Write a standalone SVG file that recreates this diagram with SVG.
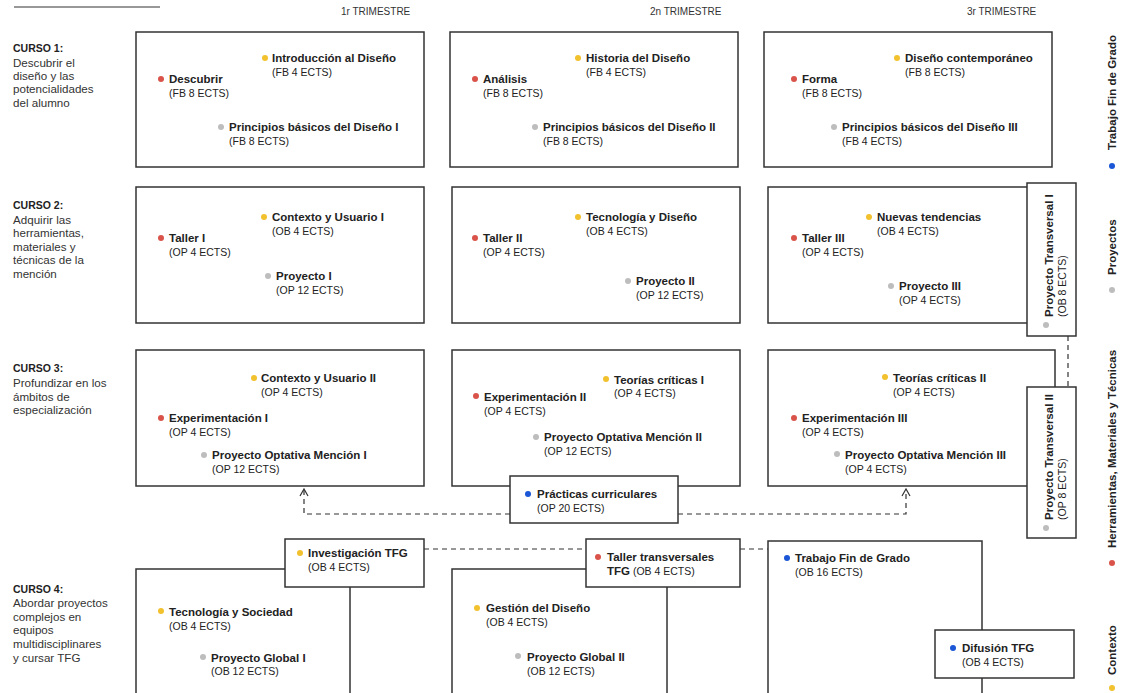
<svg xmlns="http://www.w3.org/2000/svg" width="1126" height="693" viewBox="0 0 1126 693">
<style>
text{font-family:"Liberation Sans","DejaVu Sans",sans-serif;fill:#222}
.t{font-size:11.5px;font-weight:bold}
.s{font-size:10.5px}
.h{font-size:10px;fill:#333}
.c{font-size:10.5px;font-weight:bold}
.d{font-size:11.6px;fill:#333}
.lg{font-size:11.5px;font-weight:bold}
.box{fill:#fff;stroke:#333;stroke-width:1.5}
.dash{fill:none;stroke:#333;stroke-width:1.2;stroke-dasharray:5 4}
.r{fill:#d9534a}.y{fill:#f2c12e}.g{fill:#bdbdbd}.b{fill:#1a56d6}
</style>
<rect width="1126" height="693" fill="#fff"/>
<line x1="14" y1="7" x2="160" y2="7" stroke="#333" stroke-width="1.2"/>
<g id="headers">
<text class="h" x="341" y="15">1r TRIMESTRE</text>
<text class="h" x="650" y="15">2n TRIMESTRE</text>
<text class="h" x="967" y="15">3r TRIMESTRE</text>
</g>
<g id="cursos">
<text class="c" x="13" y="52">CURSO 1:</text>
<text class="d" x="13" y="67">Descubrir el</text>
<text class="d" x="13" y="80">diseño y las</text>
<text class="d" x="13" y="93">potencialidades</text>
<text class="d" x="13" y="107">del alumno</text>
<text class="c" x="13" y="209">CURSO 2:</text>
<text class="d" x="13" y="224">Adquirir las</text>
<text class="d" x="13" y="237">herramientas,</text>
<text class="d" x="13" y="251">materiales y</text>
<text class="d" x="13" y="264">técnicas de la</text>
<text class="d" x="13" y="278">mención</text>
<text class="c" x="13" y="372">CURSO 3:</text>
<text class="d" x="13" y="387">Profundizar en los</text>
<text class="d" x="13" y="401">ámbitos de</text>
<text class="d" x="13" y="414">especialización</text>
<text class="c" x="13" y="593">CURSO 4:</text>
<text class="d" x="13" y="607">Abordar proyectos</text>
<text class="d" x="13" y="621">complejos en</text>
<text class="d" x="13" y="634">equipos</text>
<text class="d" x="13" y="648">multidisciplinares</text>
<text class="d" x="13" y="662">y cursar TFG</text>
</g>
<g id="connectors">
<polyline class="dash" points="510,514 304,514 304,490"/>
<polyline class="dash" points="678,514 906,514 906,490"/>
<polyline points="300,496 304,489 308,496" fill="none" stroke="#333" stroke-width="1.2"/>
<polyline points="902,496 906,489 910,496" fill="none" stroke="#333" stroke-width="1.2"/>
<line class="dash" x1="424" y1="549" x2="586" y2="549"/>
<line class="dash" x1="740" y1="549" x2="768" y2="549"/>
<line class="dash" x1="1068" y1="336" x2="1068" y2="387"/>
</g>
<g id="c1t1">
<rect class="box" x="136" y="32" width="288" height="135"/>
<circle class="r" cx="161" cy="79" r="3"/><text class="t" x="169" y="83">Descubrir</text><text class="s" x="169" y="97">(FB 8 ECTS)</text>
<circle class="y" cx="265" cy="58" r="3"/><text class="t" x="272" y="62">Introducción al Diseño</text><text class="s" x="272" y="76">(FB 4 ECTS)</text>
<circle class="g" cx="221" cy="127" r="3"/><text class="t" x="229" y="131">Principios básicos del Diseño I</text><text class="s" x="229" y="145">(FB 8 ECTS)</text>
</g>
<g id="c1t2">
<rect class="box" x="450" y="32" width="288" height="135"/>
<circle class="r" cx="475" cy="79" r="3"/><text class="t" x="483" y="83">Análisis</text><text class="s" x="483" y="97">(FB 8 ECTS)</text>
<circle class="y" cx="578" cy="58" r="3"/><text class="t" x="586" y="62">Historia del Diseño</text><text class="s" x="586" y="76">(FB 4 ECTS)</text>
<circle class="g" cx="535" cy="127" r="3"/><text class="t" x="543" y="131">Principios básicos del Diseño II</text><text class="s" x="543" y="145">(FB 8 ECTS)</text>
</g>
<g id="c1t3">
<rect class="box" x="764" y="32" width="288" height="135"/>
<circle class="r" cx="794" cy="79" r="3"/><text class="t" x="802" y="83">Forma</text><text class="s" x="802" y="97">(FB 8 ECTS)</text>
<circle class="y" cx="897" cy="58" r="3"/><text class="t" x="905" y="62">Diseño contemporáneo</text><text class="s" x="905" y="76">(FB 8 ECTS)</text>
<circle class="g" cx="834" cy="127" r="3"/><text class="t" x="842" y="131">Principios básicos del Diseño III</text><text class="s" x="842" y="145">(FB 4 ECTS)</text>
</g>
<g id="c2t1">
<rect class="box" x="136" y="187" width="288" height="136"/>
<circle class="r" cx="161" cy="238" r="3"/><text class="t" x="169" y="242">Taller I</text><text class="s" x="169" y="256">(OP 4 ECTS)</text>
<circle class="y" cx="264" cy="217" r="3"/><text class="t" x="272" y="221">Contexto y Usuario I</text><text class="s" x="272" y="235">(OB 4 ECTS)</text>
<circle class="g" cx="268" cy="276" r="3"/><text class="t" x="276" y="280">Proyecto I</text><text class="s" x="276" y="294">(OP 12 ECTS)</text>
</g>
<g id="c2t2">
<rect class="box" x="452" y="187" width="288" height="136"/>
<circle class="r" cx="475" cy="238" r="3"/><text class="t" x="483" y="242">Taller II</text><text class="s" x="483" y="256">(OP 4 ECTS)</text>
<circle class="y" cx="578" cy="217" r="3"/><text class="t" x="586" y="221">Tecnología y Diseño</text><text class="s" x="586" y="235">(OB 4 ECTS)</text>
<circle class="g" cx="628" cy="281" r="3"/><text class="t" x="636" y="285">Proyecto II</text><text class="s" x="636" y="299">(OP 12 ECTS)</text>
</g>
<g id="c2t3">
<rect class="box" x="768" y="187" width="270" height="136"/>
<circle class="r" cx="794" cy="238" r="3"/><text class="t" x="802" y="242">Taller III</text><text class="s" x="802" y="256">(OP 4 ECTS)</text>
<circle class="y" cx="869" cy="217" r="3"/><text class="t" x="877" y="221">Nuevas tendencias</text><text class="s" x="877" y="235">(OB 4 ECTS)</text>
<circle class="g" cx="891" cy="286" r="3"/><text class="t" x="899" y="290">Proyecto III</text><text class="s" x="899" y="304">(OP 4 ECTS)</text>
</g>
<g id="transversal1">
<rect class="box" x="1027" y="183" width="49" height="153"/>
<circle class="g" cx="1046" cy="325" r="3"/>
<text class="t" transform="rotate(-90 1053 317)" x="1053" y="317">Proyecto Transversal I</text>
<text class="s" transform="rotate(-90 1066 317)" x="1066" y="317">(OB 8 ECTS)</text>
</g>
<g id="c3t1">
<rect class="box" x="136" y="350" width="288" height="136"/>
<circle class="y" cx="254" cy="378" r="3"/><text class="t" x="261" y="382">Contexto y Usuario II</text><text class="s" x="261" y="396">(OP 4 ECTS)</text>
<circle class="r" cx="161" cy="418" r="3"/><text class="t" x="169" y="422">Experimentación I</text><text class="s" x="169" y="436">(OP 4 ECTS)</text>
<circle class="g" cx="204" cy="455" r="3"/><text class="t" x="212" y="459">Proyecto Optativa Mención I</text><text class="s" x="212" y="473">(OP 12 ECTS)</text>
</g>
<g id="c3t2">
<rect class="box" x="452" y="350" width="288" height="136"/>
<circle class="r" cx="476" cy="396" r="3"/><text class="t" x="484" y="401">Experimentación II</text><text class="s" x="484" y="415">(OP 4 ECTS)</text>
<circle class="y" cx="606" cy="379" r="3"/><text class="t" x="614" y="384">Teorías críticas I</text><text class="s" x="614" y="397">(OP 4 ECTS)</text>
<circle class="g" cx="536" cy="437" r="3"/><text class="t" x="544" y="441">Proyecto Optativa Mención II</text><text class="s" x="544" y="455">(OP 12 ECTS)</text>
</g>
<g id="c3t3">
<rect class="box" x="768" y="350" width="287" height="136"/>
<circle class="y" cx="885" cy="377" r="3"/><text class="t" x="893" y="382">Teorías críticas II</text><text class="s" x="893" y="396">(OP 4 ECTS)</text>
<circle class="r" cx="794" cy="418" r="3"/><text class="t" x="802" y="422">Experimentación III</text><text class="s" x="802" y="436">(OP 4 ECTS)</text>
<circle class="g" cx="837" cy="454" r="3"/><text class="t" x="845" y="459">Proyecto Optativa Mención III</text><text class="s" x="845" y="473">(OP 4 ECTS)</text>
</g>
<g id="transversal2">
<rect class="box" x="1027" y="387" width="49" height="151"/>
<circle class="g" cx="1046" cy="528" r="3"/>
<text class="t" transform="rotate(-90 1053 520)" x="1053" y="520">Proyecto Transversal II</text>
<text class="s" transform="rotate(-90 1066 520)" x="1066" y="520">(OP 8 ECTS)</text>
</g>
<g id="practicas">
<rect class="box" x="510" y="476" width="168" height="47"/>
<circle class="b" cx="528" cy="494" r="3"/><text class="t" x="537" y="498">Prácticas curriculares</text><text class="s" x="537" y="512">(OP 20 ECTS)</text>
</g>
<g id="c4t1">
<rect class="box" x="136" y="569" width="214" height="140"/>
<circle class="y" cx="161" cy="611" r="3"/><text class="t" x="169" y="616">Tecnología y Sociedad</text><text class="s" x="169" y="630">(OB 4 ECTS)</text>
<circle class="g" cx="203" cy="657" r="3"/><text class="t" x="211" y="662">Proyecto Global I</text><text class="s" x="211" y="675">(OB 12 ECTS)</text>
</g>
<g id="investigacion">
<rect class="box" x="285" y="539" width="139" height="48"/>
<circle class="y" cx="300" cy="553" r="3"/><text class="t" x="308" y="557">Investigación TFG</text><text class="s" x="308" y="571">(OB 4 ECTS)</text>
</g>
<g id="c4t2">
<rect class="box" x="452" y="569" width="215" height="140"/>
<circle class="y" cx="477" cy="608" r="3"/><text class="t" x="486" y="612">Gestión del Diseño</text><text class="s" x="486" y="626">(OB 4 ECTS)</text>
<circle class="g" cx="518" cy="656" r="3"/><text class="t" x="527" y="661">Proyecto Global II</text><text class="s" x="527" y="675">(OB 12 ECTS)</text>
</g>
<g id="tallertransversales">
<rect class="box" x="586" y="539" width="154" height="48"/>
<circle class="r" cx="598" cy="557" r="3"/><text class="t" x="607" y="561">Taller transversales</text>
<text x="607" y="575"><tspan class="t">TFG</tspan><tspan class="s"> (OB 4 ECTS)</tspan></text>
</g>
<g id="c4t3">
<rect class="box" x="768" y="541" width="214" height="168"/>
<circle class="b" cx="787" cy="558" r="3"/><text class="t" x="795" y="562">Trabajo Fin de Grado</text><text class="s" x="795" y="576">(OB 16 ECTS)</text>
</g>
<g id="difusion">
<rect class="box" x="935" y="630" width="139" height="48"/>
<circle class="b" cx="953" cy="648" r="3"/><text class="t" x="962" y="652">Difusión TFG</text><text class="s" x="962" y="666">(OB 4 ECTS)</text>
</g>
<g id="legend">
<circle class="b" cx="1112" cy="166" r="3"/>
<text class="lg" transform="rotate(-90 1116 150)" x="1116" y="150">Trabajo Fin de Grado</text>
<circle class="g" cx="1112" cy="290" r="3"/>
<text class="lg" transform="rotate(-90 1116 275)" x="1116" y="275">Proyectos</text>
<circle class="r" cx="1112" cy="563" r="3"/>
<text class="lg" transform="rotate(-90 1116 548)" x="1116" y="548">Herramientas, Materiales y Técnicas</text>
<circle class="y" cx="1112" cy="688" r="3"/>
<text class="lg" transform="rotate(-90 1116 675)" x="1116" y="675">Contexto</text>
</g>
</svg>
